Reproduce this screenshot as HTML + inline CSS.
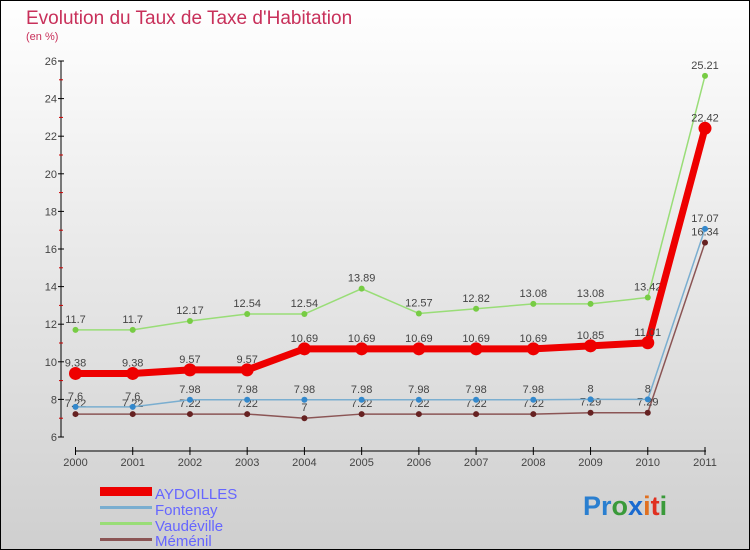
<!DOCTYPE html>
<html><head><meta charset="utf-8"><style>
body{margin:0}
svg{display:block;font-family:"Liberation Sans",sans-serif}
</style></head><body>
<svg id="c" width="750" height="550" xmlns="http://www.w3.org/2000/svg">
<defs><linearGradient id="bg" x1="0" y1="0" x2="0" y2="1"><stop offset="0" stop-color="#ffffff"/><stop offset="1" stop-color="#cfcfcf"/></linearGradient></defs>
<rect x="0.5" y="0.5" width="749" height="549" fill="url(#bg)" stroke="#000"/>
<text x="26" y="24" font-size="19" fill="#c8305a">Evolution du Taux de Taxe d'Habitation</text>
<text x="26" y="40" font-size="11" fill="#c8305a">(en %)</text>
<g id="axes"></g><g id="series"></g>
<g>
<rect x="100" y="487" width="52" height="9" fill="#e00"/>
<text x="155" y="499" font-size="15" fill="#6666ff">AYDOILLES</text>
<rect x="100" y="506" width="52" height="3" fill="#7aaed0"/>
<text x="155" y="515" font-size="15" fill="#6666ff">Fontenay</text>
<rect x="100" y="522" width="52" height="3" fill="#99dd77"/>
<text x="155" y="531" font-size="15" fill="#6666ff">Vaudéville</text>
<rect x="100" y="538" width="52" height="3" fill="#8b5555"/>
<text x="155" y="546" font-size="15" fill="#6666ff">Méménil</text>
</g>
<text x="583" y="515" font-size="27" font-weight="bold"><tspan fill="#2a7fd0">Pr</tspan><tspan fill="#3a9a3a">o</tspan><tspan fill="#1a6ad0">x</tspan><tspan fill="#e07020">i</tspan><tspan fill="#e03020">t</tspan><tspan fill="#3a9a3a">i</tspan></text>
</svg>
<script>
const years=["2000","2001","2002","2003","2004","2005","2006","2007","2008","2009","2010","2011"];
const yTicks=[6,8,10,12,14,16,18,20,22,24,26];
const aydoilles=[9.38,9.38,9.57,9.57,10.69,10.69,10.69,10.69,10.69,10.85,11.01,22.42];
const fontenay=[7.6,7.6,7.98,7.98,7.98,7.98,7.98,7.98,7.98,8,8,17.07];
const vaudeville=[11.7,11.7,12.17,12.54,12.54,13.89,12.57,12.82,13.08,13.08,13.42,25.21];
const menenil=[7.22,7.22,7.22,7.22,7,7.22,7.22,7.22,7.22,7.29,7.29,16.34];
const NS="http://www.w3.org/2000/svg";
const X=i=>75.5+i*(705-75.5)/11;
const Y=v=>437-(v-6)*(437-61)/20;
function mk(tag,attrs,parent,txt){const e=document.createElementNS(NS,tag);for(const k in attrs)e.setAttribute(k,attrs[k]);if(txt!=null)e.textContent=txt;parent.appendChild(e);return e;}
const ax=document.getElementById('axes');
let e=mk('line',{x1:61,y1:61,x2:61,y2:437,stroke:'#000'},ax);


e=mk('line',{x1:75,y1:451,x2:706,y2:451,stroke:'#000'},ax);


yTicks.forEach(t=>{
 mk('line',{x1:58,x2:64,y1:Y(t),y2:Y(t),stroke:'#000'},ax);
 if(t<26)mk('line',{x1:59,x2:63,y1:Y(t+1),y2:Y(t+1),stroke:'#c00'},ax);
 const l=mk('text',{x:57,y:Y(t)+4,'font-size':11,fill:'#444','text-anchor':'end'},ax,t);
 
 
});
years.forEach((y,i)=>{
 mk('line',{x1:X(i),x2:X(i),y1:447,y2:455,stroke:'#000'},ax);
 const l=mk('text',{x:X(i),y:466,'font-size':11,fill:'#444','text-anchor':'middle'},ax,y);
 
 
});
const sg=document.getElementById('series');
function series(name,data,color,w,r,dot){
 const g=mk('g',{},sg);
 
 
 const p=mk('polyline',{points:data.map((v,i)=>X(i)+','+Y(v)).join(' '),fill:'none',stroke:color,'stroke-width':w,'stroke-linejoin':'round'},g);
 
 
 data.forEach((v,i)=>{
  const c=mk('circle',{cx:X(i),cy:Y(v),r:r,fill:dot},g);
  
  
  const t=mk('text',{x:X(i),y:Y(v)-7,'font-size':11,fill:'#444','text-anchor':'middle'},g,String(v));
  
  
 });
}
series('menenil',menenil,'#8b5555',1.5,3,'#662222');
series('fontenay',fontenay,'#7aaed0',1.5,3,'#3388cc');
series('vaudeville',vaudeville,'#99dd77',1.5,3,'#77cc44');
series('aydoilles',aydoilles,'#ee0000',7,6.5,'#ee0000');
</script>
</body></html>
